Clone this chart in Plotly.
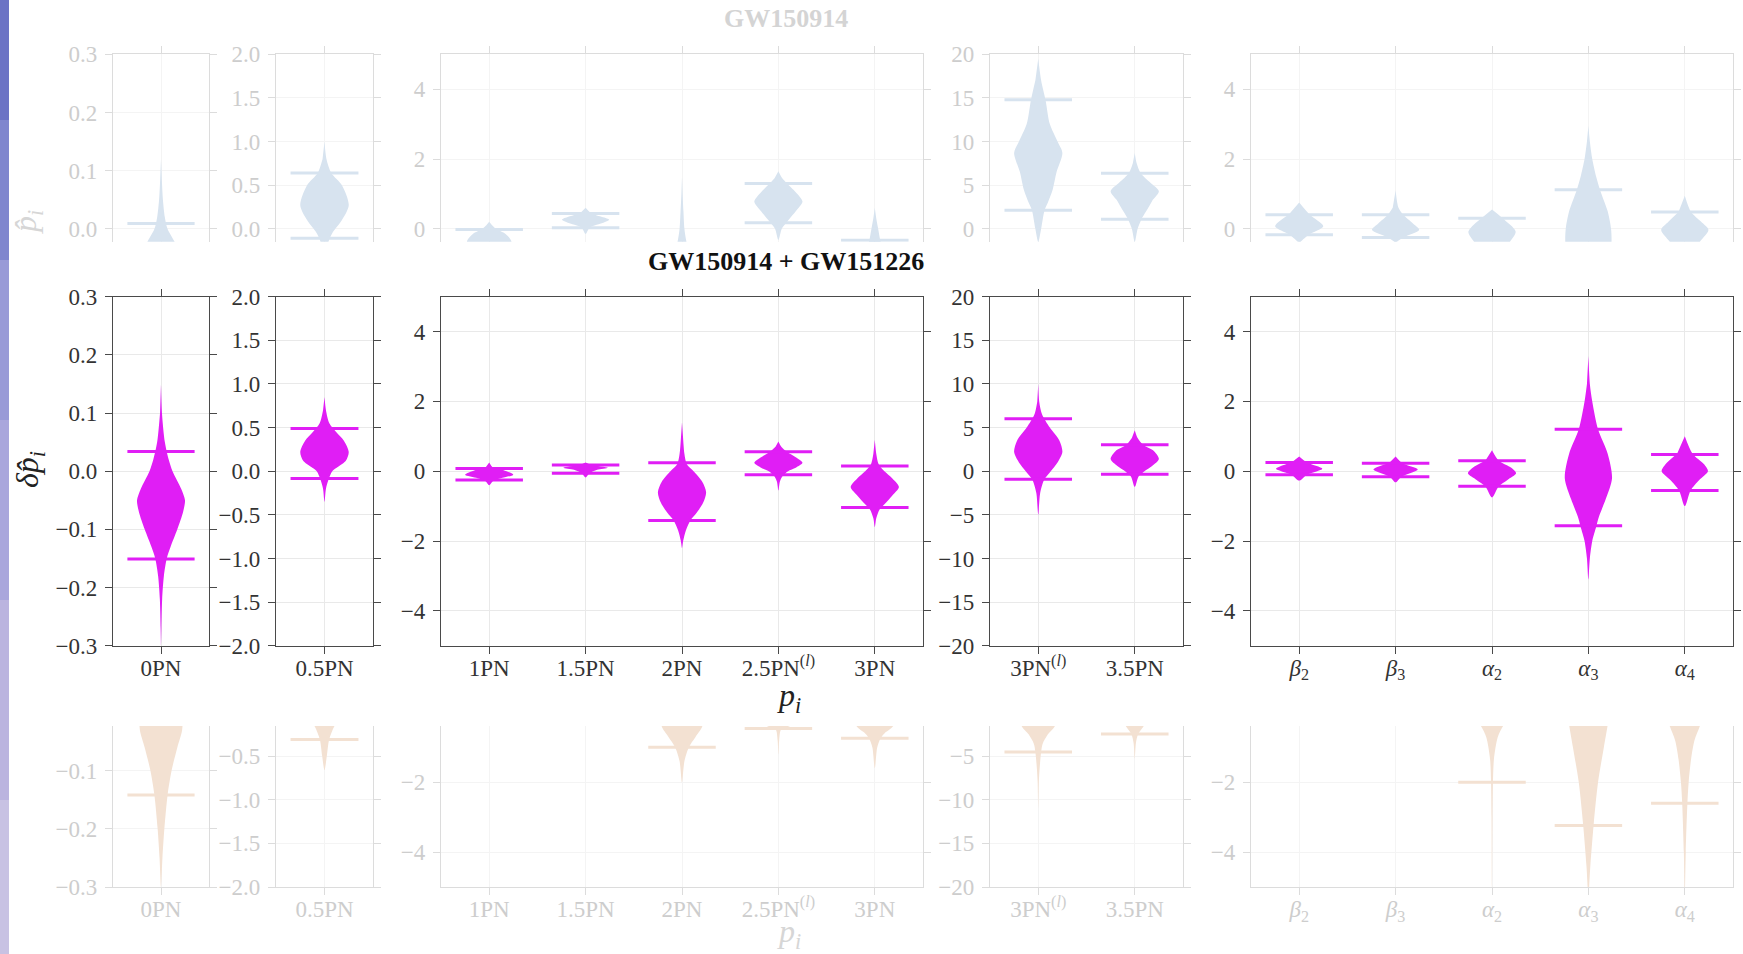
import math
import plotly.graph_objects as go

FIG_W, FIG_H = 1743, 954
SERIF = "Liberation Serif"

# ---------------- data ----------------
PANEL_LABELS = [
    ["0PN"],
    ["0.5PN"],
    ["1PN", "1.5PN", "2PN", "2.5PN<sup>(<i>l</i>)</sup>", "3PN"],
    ["3PN<sup>(<i>l</i>)</sup>", "3.5PN"],
    ["<i>β</i><sub>2</sub>", "<i>β</i><sub>3</sub>", "<i>α</i><sub>2</sub>",
     "<i>α</i><sub>3</sub>", "<i>α</i><sub>4</sub>"],
]
Y_LIMIT = [0.3, 2.0, 5.0, 20.0, 5.0]
Y_STEP = [0.1, 0.5, 2.0, 5.0, 2.0]
Y_DECIMALS = [1, 1, 0, 0, 0]

TITLE_TOP = "GW150914"
TITLE_MID = "GW150914 + GW151226"

# 90% credible bounds (upper / lower) for each parameter, per row
TOP_BAR_HI = [0.009, 0.64, -0.02, 0.44, -0.6, 1.3, -0.33, 14.8, 6.37, 0.40, 0.40, 0.30, 1.12, 0.48]
TOP_BAR_LO = [-0.1, -0.107, -0.8, 0.03, -3.8, 0.17, -3.8, 2.14, 1.1, -0.17, -0.25, -1.0, -2.5, -0.8]
MID_BAR_HI = [0.034, 0.49, 0.077, 0.18, 0.24, 0.555, 0.15, 6.0, 3.03, 0.25, 0.23, 0.30, 1.20, 0.48]
MID_BAR_LO = [-0.151, -0.085, -0.25, -0.06, -1.41, -0.105, -1.04, -0.92, -0.34, -0.105, -0.16, -0.43, -1.56, -0.55]
BOT_BAR_HI = [0.05, 0.4, 0.2, 0.2, 0.4, 0.6, 0.5, 3.0, 2.5, 0.2, 0.2, 0.4, 0.8, 0.6]
BOT_BAR_LO = [-0.142, -0.31, -0.3, -0.2, -0.995, -0.46, -0.74, -4.54, -2.45, -0.2, -0.2, -2.0, -3.24, -2.6]

# violin outlines: (value, half-width in category units)
TOP_PROFILES = [
    [(0.12, 0), (0.08, 0.01), (0.05, 0.02), (0.02, 0.04), (0.0, 0.068), (-0.022, 0.14), (-0.05, 0.22), (-0.08, 0.24), (-0.12, 0.18), (-0.16, 0.08), (-0.2, 0.02), (-0.25, 0)],
    [(1.0, 0), (0.8, 0.02), (0.64, 0.07), (0.5, 0.18), (0.27, 0.25), (0.1, 0.18), (-0.05, 0.08), (-0.15, 0.04), (-0.3, 0.01), (-0.45, 0)],
    [(0.2, 0), (0.1, 0.03), (0.0, 0.07), (-0.15, 0.17), (-0.36, 0.23), (-0.6, 0.2), (-1.0, 0.05), (-1.3, 0)],
    [(0.6, 0), (0.44, 0.06), (0.26, 0.245), (0.1, 0.1), (0.03, 0.04), (-0.15, 0)],
    [(1.5, 0), (1.0, 0.006), (0.5, 0.015), (0.0, 0.025), (-0.36, 0.045), (-1.0, 0.1), (-2.0, 0.2), (-3.0, 0.15), (-4.0, 0.05), (-5.0, 0)],
    [(1.65, 0), (1.45, 0.04), (1.3, 0.09), (1.05, 0.18), (0.78, 0.25), (0.5, 0.18), (0.2, 0.09), (0.0, 0.035), (-0.32, 0)],
    [(0.6, 0), (0.3, 0.015), (0.0, 0.035), (-0.36, 0.06), (-1.0, 0.15), (-2.0, 0.22), (-3.0, 0.12), (-4.0, 0.03), (-4.6, 0)],
    [(19.5, 0), (17, 0.03), (14.8, 0.075), (12, 0.12), (10, 0.2), (8.7, 0.25), (6.5, 0.19), (4.5, 0.15), (3, 0.1), (2.1, 0.065), (0, 0.03), (-1.5, 0)],
    [(8.7, 0), (7.5, 0.02), (6.4, 0.06), (5.3, 0.16), (4.3, 0.25), (3.2, 0.18), (2.4, 0.14), (1.1, 0.07), (0, 0.03), (-1.5, 0)],
    [(0.75, 0), (0.4, 0.11), (0.07, 0.25), (-0.17, 0.1), (-0.36, 0.02), (-0.45, 0)],
    [(1.1, 0), (0.6, 0.03), (0.4, 0.08), (0.15, 0.18), (-0.03, 0.245), (-0.25, 0.08), (-0.36, 0.02), (-0.45, 0)],
    [(0.55, 0), (0.3, 0.11), (-0.08, 0.245), (-0.36, 0.19), (-0.8, 0.1), (-1.5, 0.03), (-2.0, 0)],
    [(2.95, 0), (2.5, 0.015), (2.0, 0.04), (1.5, 0.08), (1.12, 0.12), (0.5, 0.2), (0.0, 0.235), (-0.36, 0.24), (-1.0, 0.22), (-2.0, 0.12), (-3.0, 0.04), (-4.0, 0)],
    [(0.95, 0), (0.48, 0.065), (0.2, 0.17), (-0.03, 0.245), (-0.36, 0.16), (-0.8, 0.06), (-1.5, 0.01), (-2.0, 0)],
]
MID_PROFILES = [
    [(0.15, 0), (0.10, 0.01), (0.05, 0.04), (0.02, 0.08), (0.0, 0.12), (-0.03, 0.21), (-0.05, 0.25), (-0.07, 0.23), (-0.10, 0.17), (-0.13, 0.10), (-0.15, 0.06), (-0.18, 0.03), (-0.22, 0.012), (-0.27, 0.004), (-0.30, 0)],
    [(0.85, 0), (0.7, 0.015), (0.55, 0.05), (0.45, 0.12), (0.35, 0.2), (0.22, 0.25), (0.12, 0.22), (0.05, 0.14), (0.0, 0.08), (-0.1, 0.04), (-0.2, 0.015), (-0.35, 0)],
    [(0.25, 0), (0.1, 0.04), (0.03, 0.15), (-0.1, 0.25), (-0.2, 0.12), (-0.28, 0.04), (-0.4, 0)],
    [(0.25, 0), (0.18, 0.06), (0.1, 0.23), (0.04, 0.12), (-0.06, 0.04), (-0.18, 0)],
    [(1.4, 0), (1.0, 0.01), (0.5, 0.025), (0.2, 0.05), (0.0, 0.12), (-0.3, 0.21), (-0.6, 0.25), (-0.9, 0.22), (-1.2, 0.15), (-1.4, 0.09), (-1.7, 0.04), (-2.0, 0.012), (-2.2, 0)],
    [(0.85, 0), (0.7, 0.03), (0.55, 0.09), (0.4, 0.18), (0.24, 0.25), (0.1, 0.18), (0.0, 0.1), (-0.15, 0.04), (-0.3, 0.015), (-0.55, 0)],
    [(0.9, 0), (0.5, 0.015), (0.2, 0.04), (0.0, 0.1), (-0.2, 0.18), (-0.45, 0.25), (-0.7, 0.18), (-0.95, 0.1), (-1.1, 0.05), (-1.35, 0.015), (-1.6, 0)],
    [(10, 0), (8, 0.01), (6.5, 0.04), (5, 0.12), (3.5, 0.22), (2.2, 0.25), (1, 0.2), (0, 0.13), (-1, 0.06), (-2.5, 0.02), (-5, 0)],
    [(4.7, 0), (3.8, 0.03), (3.0, 0.09), (2.3, 0.2), (1.4, 0.25), (0.6, 0.18), (0, 0.1), (-0.6, 0.04), (-1.8, 0)],
    [(0.42, 0), (0.25, 0.08), (0.07, 0.24), (-0.1, 0.08), (-0.27, 0)],
    [(0.42, 0), (0.23, 0.07), (0.05, 0.23), (-0.16, 0.06), (-0.32, 0)],
    [(0.6, 0), (0.3, 0.07), (0.1, 0.2), (-0.06, 0.25), (-0.25, 0.16), (-0.43, 0.07), (-0.75, 0)],
    [(3.3, 0), (2.5, 0.015), (2.0, 0.04), (1.2, 0.1), (0.5, 0.2), (-0.2, 0.245), (-0.8, 0.18), (-1.3, 0.11), (-1.6, 0.08), (-2.0, 0.04), (-2.5, 0.015), (-3.1, 0)],
    [(1.0, 0), (0.5, 0.08), (0.2, 0.2), (0.0, 0.24), (-0.25, 0.15), (-0.55, 0.06), (-1.0, 0)],
]
BOT_PROFILES = [
    [(0.1, 0), (0.05, 0.12), (0.0, 0.22), (-0.03, 0.22), (-0.06, 0.17), (-0.1, 0.11), (-0.14, 0.07), (-0.2, 0.035), (-0.25, 0.015), (-0.3, 0)],
    [(0.3, 0), (0.0, 0.2), (-0.15, 0.105), (-0.31, 0.048), (-0.5, 0.024), (-0.66, 0)],
    [(0.3, 0), (0.0, 0.25), (-0.3, 0)],
    [(0.3, 0), (0.05, 0.25), (-0.25, 0)],
    [(1.0, 0), (0.5, 0.1), (0.0, 0.22), (-0.4, 0.21), (-0.7, 0.14), (-1.0, 0.07), (-1.4, 0.025), (-2.0, 0)],
    [(0.5, 0), (0.1, 0.25), (-0.39, 0.12), (-0.47, 0.03), (-0.8, 0.008), (-1.2, 0)],
    [(0.6, 0), (0.0, 0.22), (-0.39, 0.19), (-0.6, 0.1), (-0.74, 0.06), (-1.0, 0.025), (-1.6, 0)],
    [(3, 0), (0, 0.2), (-1.6, 0.17), (-2.5, 0.1), (-3.6, 0.045), (-4.5, 0.03), (-6.3, 0.015), (-8, 0.006), (-11, 0)],
    [(2, 0), (0, 0.15), (-1.6, 0.09), (-2.45, 0.035), (-3.5, 0.012), (-5.3, 0)],
    [(0.3, 0), (0.05, 0.25), (-0.25, 0)],
    [(0.3, 0), (0.05, 0.25), (-0.25, 0)],
    [(0.5, 0), (0.0, 0.2), (-0.36, 0.12), (-0.7, 0.06), (-1.34, 0.02), (-2.0, 0.01), (-3.0, 0.005), (-5.2, 0)],
    [(0.5, 0), (0.0, 0.22), (-0.36, 0.2), (-1.0, 0.16), (-2.0, 0.1), (-3.2, 0.055), (-4.4, 0.02), (-5.0, 0.008), (-5.5, 0)],
    [(0.5, 0), (0.0, 0.2), (-0.36, 0.16), (-0.8, 0.1), (-1.34, 0.065), (-2.0, 0.04), (-2.6, 0.027), (-4.0, 0.01), (-5.2, 0)],
]

# ---------------- styling / geometry ----------------
ROW_COLOURS = ["rgb(215,227,239)", "rgb(224,30,245)", "rgb(243,225,210)"]
PANEL_X_PX = [(113, 209), (276, 373), (441, 923), (990, 1183), (1251, 1733)]
ROW_Y_PX = [(54.3, 241.7), (296.7, 645.7), (726.0, 887.0)]
BAR_HALF = 0.35
TICK_SIZE = 23

ROWS_PROFILES = [TOP_PROFILES, MID_PROFILES, BOT_PROFILES]
ROWS_HI = [TOP_BAR_HI, MID_BAR_HI, BOT_BAR_HI]
ROWS_LO = [TOP_BAR_LO, MID_BAR_LO, BOT_BAR_LO]

cat_map = []
for p, labs in enumerate(PANEL_LABELS):
    for j in range(len(labs)):
        cat_map.append((p, j))

fig = go.Figure()

for r in range(3):
    col = ROW_COLOURS[r]
    for g, (p, j) in enumerate(cat_map):
        n = r * 5 + p + 1
        xa = "x" if n == 1 else f"x{n}"
        ya = "y" if n == 1 else f"y{n}"
        prof = ROWS_PROFILES[r][g]
        right = [(j + w, y) for (y, w) in prof]
        left = [(j - w, y) for (y, w) in reversed(prof[1:-1])]
        pts = right + left
        fig.add_trace(go.Scatter(
            x=[q[0] for q in pts], y=[q[1] for q in pts],
            mode="lines", fill="toself", fillcolor=col,
            line=dict(width=0, color=col, shape="spline", smoothing=0.8),
            xaxis=xa, yaxis=ya, hoverinfo="skip"))
        for v in (ROWS_HI[r][g], ROWS_LO[r][g]):
            fig.add_trace(go.Scatter(
                x=[j - BAR_HALF, j + BAR_HALF], y=[v, v], mode="lines",
                line=dict(color=col, width=3), xaxis=xa, yaxis=ya,
                hoverinfo="skip"))


def fmt(v, d):
    s = f"{abs(v):.{d}f}"
    return ("\u2212" + s) if v < -1e-9 else s


layout = dict(width=FIG_W, height=FIG_H, margin=dict(l=0, r=0, t=0, b=0, pad=0),
              paper_bgcolor="white", plot_bgcolor="white", showlegend=False)

mid_h = ROW_Y_PX[1][1] - ROW_Y_PX[1][0]
for r in range(3):
    frac = (ROW_Y_PX[r][1] - ROW_Y_PX[r][0]) / mid_h
    faded = r != 1
    frame = "#dcdcdc" if faded else "#4a4a4a"
    grid = "#f4f4f4" if faded else "#e9e9e9"
    txt = "#cdcdcd" if faded else "#333333"
    lw = 1.2 if faded else 1.4
    for p in range(5):
        n = r * 5 + p + 1
        sfx = "" if n == 1 else str(n)
        k = len(PANEL_LABELS[p])
        lim = Y_LIMIT[p]
        if r == 0:
            yr = [lim - frac * 2 * lim, lim]
        elif r == 1:
            yr = [-lim, lim]
        else:
            yr = [-lim, -lim + frac * 2 * lim]
        st = Y_STEP[p]
        i0 = math.ceil(yr[0] / st - 1e-6)
        i1 = math.floor(yr[1] / st + 1e-6)
        tv = [round(i * st, 6) for i in range(i0, i1 + 1)]
        tt = [fmt(v, Y_DECIMALS[p]) for v in tv]
        x0, x1 = PANEL_X_PX[p]
        y0, y1 = ROW_Y_PX[r]
        xax = dict(domain=[x0 / FIG_W, x1 / FIG_W], anchor="y" + sfx,
                   range=[-0.5, k - 0.5], tickvals=list(range(k)),
                   ticktext=PANEL_LABELS[p], showgrid=True, gridcolor=grid,
                   gridwidth=1, zeroline=False, showline=True, linecolor=frame,
                   linewidth=lw, ticks="outside", ticklen=7, tickwidth=1,
                   tickcolor=frame,
                   tickfont=dict(family=SERIF, size=TICK_SIZE, color=txt),
                   ticklabelstandoff=-6,
                   automargin=False, fixedrange=True)
        if r == 0:
            xax.update(side="top", showticklabels=False)
        elif r == 1:
            xax.update(mirror="ticks")
        yax = dict(domain=[1 - y1 / FIG_H, 1 - y0 / FIG_H], anchor="x" + sfx,
                   range=yr, tickvals=tv, ticktext=tt, showgrid=True,
                   gridcolor=grid, gridwidth=1, zeroline=False, showline=True,
                   mirror="ticks", linecolor=frame, linewidth=lw,
                   ticks="outside", ticklen=7, tickwidth=1, tickcolor=frame,
                   tickfont=dict(family=SERIF, size=TICK_SIZE, color=txt),
                   ticklabelstandoff=3, automargin=False, fixedrange=True)
        layout["xaxis" + sfx] = xax
        layout["yaxis" + sfx] = yax

fig.update_layout(**layout)


def px_ann(text, x, y, size, color, angle=0, bold=False):
    fig.add_annotation(text=("<b>" + text + "</b>") if bold else text,
                       x=x / FIG_W, y=1 - y / FIG_H, xref="paper", yref="paper",
                       showarrow=False, textangle=angle, xanchor="center",
                       yanchor="middle",
                       font=dict(family=SERIF, size=size, color=color))


px_ann(TITLE_TOP, 786, 19, 26, "#d4d4d4", bold=True)
px_ann(TITLE_MID, 786, 261, 26, "#111111", bold=True)
px_ann("<i>p</i><sub><i>i</i></sub>", 789, 697, 32, "#222222")
px_ann("<i>p</i><sub><i>i</i></sub>", 789, 933, 32, "#d6d6d6")
px_ann("<i>δp\u0302</i><sub><i>i</i></sub>", 29, 470, 32, "#222222", angle=-90)
px_ann("<i>p\u0302</i><sub><i>i</i></sub>", 28, 222, 32, "#d6d6d6", angle=-90)

# slide background strip at the far left
STRIP = [(0, 120, "#6c73c5"), (120, 260, "#7f86ce"), (260, 420, "#999ad7"),
         (420, 600, "#a9a6dc"), (600, 800, "#bbb4df"), (800, 954, "#c8c2e3")]
for a, b, c in STRIP:
    fig.add_shape(type="rect", xref="paper", yref="paper", x0=0, x1=9 / FIG_W,
                  y0=1 - b / FIG_H, y1=1 - a / FIG_H, fillcolor=c,
                  line=dict(width=0), layer="below")

fig.write_html("out.html")
